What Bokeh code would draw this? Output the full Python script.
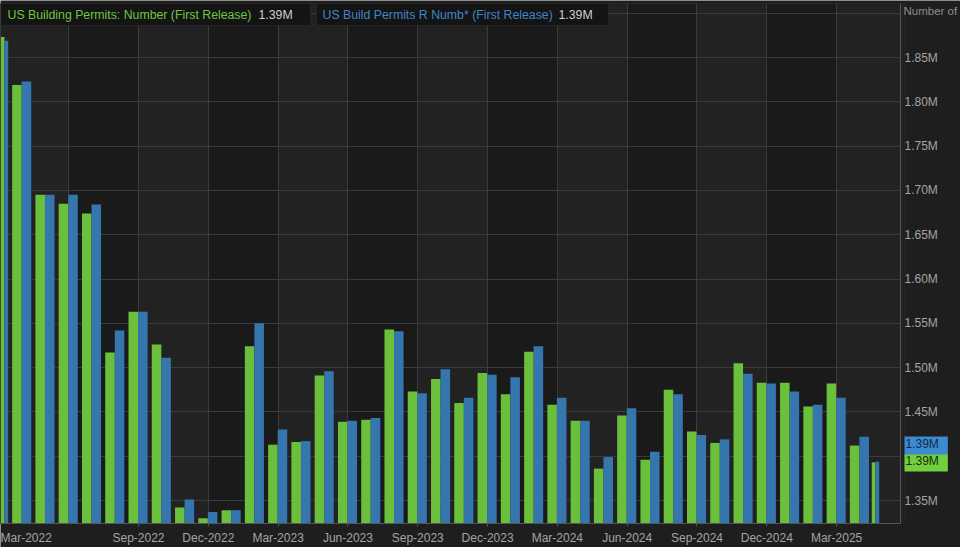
from bokeh.plotting import figure
from bokeh.models import Range1d, FixedTicker, BoxAnnotation, Label
from bokeh.embed import file_html
from bokeh.resources import INLINE

# ---------------- data ----------------
months = [
    "Mar-2022", "Apr-2022", "May-2022", "Jun-2022", "Jul-2022", "Aug-2022",
    "Sep-2022", "Oct-2022", "Nov-2022", "Dec-2022", "Jan-2023", "Feb-2023",
    "Mar-2023", "Apr-2023", "May-2023", "Jun-2023", "Jul-2023", "Aug-2023",
    "Sep-2023", "Oct-2023", "Nov-2023", "Dec-2023", "Jan-2024", "Feb-2024",
    "Mar-2024", "Apr-2024", "May-2024", "Jun-2024", "Jul-2024", "Aug-2024",
    "Sep-2024", "Oct-2024", "Nov-2024", "Dec-2024", "Jan-2025", "Feb-2025",
    "Mar-2025", "Apr-2025", "May-2025",
]
permits = [
    1.873, 1.819, 1.695, 1.685, 1.674, 1.517,
    1.563, 1.526, 1.342, 1.330, 1.339, 1.524,
    1.413, 1.416, 1.491, 1.439, 1.441, 1.543,
    1.473, 1.487, 1.460, 1.494, 1.470, 1.518,
    1.458, 1.440, 1.386, 1.446, 1.396, 1.475,
    1.428, 1.415, 1.505, 1.483, 1.483, 1.456,
    1.482, 1.412, 1.393,
]
permits_r = [
    1.869, 1.823, 1.695, 1.695, 1.684, 1.542,
    1.563, 1.511, 1.351, 1.337, 1.339, 1.550,
    1.430, 1.417, 1.496, 1.440, 1.443, 1.541,
    1.471, 1.498, 1.466, 1.492, 1.489, 1.524,
    1.466, 1.440, 1.399, 1.454, 1.405, 1.470,
    1.424, 1.419, 1.493, 1.482, 1.473, 1.458,
    1.466, 1.422, 1.394,
]
series_names = [
    "US Building Permits: Number (First Release)",
    "US Build Permits R Numb* (First Release)",
]
y_tick_values = [1.35, 1.40, 1.45, 1.50, 1.55, 1.60, 1.65, 1.70, 1.75, 1.80, 1.85]
y_grid_values = y_tick_values + [1.90]
x_tick_labels = ["Sep-2022", "Dec-2022", "Mar-2023", "Jun-2023", "Sep-2023",
                 "Dec-2023", "Mar-2024", "Jun-2024", "Sep-2024", "Dec-2024",
                 "Mar-2025"]
first_label = "Mar-2022"
unit_label = "Number of"

# ---------------- style / geometry ----------------
GREEN = "#6bc03b"
BLUE = "#3576af"
GREEN_TXT = "#6cc63f"
BLUE_TXT = "#3f86c8"
TXT = "#a4a4a4"
FONT = "Liberation Sans"
GRID = "#3b3b3b"

W, H = 960, 547
PX_MONTH = 23.27          # horizontal pixels per month
PX_UNIT = 886.0           # vertical pixels per 1.0M
X0 = 0.069                # month index at the left edge of the canvas
X1 = X0 + W / PX_MONTH
Y1 = 1.35 + 500 / PX_UNIT  # value at the top edge of the canvas
Y0 = Y1 - H / PX_UNIT


def dx(px):
    return X0 + px / PX_MONTH


def dy(py):
    return Y1 - py / PX_UNIT


PLOT_R = dx(900)      # right edge of the plotting area
PLOT_B = dy(523)      # baseline (x axis)
PLOT_T = dy(3)        # top edge of the plotting area

p = figure(width=W, height=H,
           x_range=Range1d(X0, X1), y_range=Range1d(Y0, Y1),
           output_backend="svg", toolbar_location=None,
           y_axis_location="right",
           min_border_left=0, min_border_top=0,
           min_border_right=0, min_border_bottom=0,
           background_fill_color="#1e1e1e", border_fill_color="#1e1e1e",
           outline_line_color=None)

n = len(months)

# plotting area + alternating quarter bands
p.add_layout(BoxAnnotation(left=dx(-3), right=PLOT_R, top=PLOT_T, bottom=PLOT_B,
                           fill_color="#1a1a1a", fill_alpha=1.0,
                           line_color="#4a4a4a", line_width=1, level="image"))
for q in range(0, n, 6):
    p.add_layout(BoxAnnotation(left=q, right=q + 3, top=PLOT_T, bottom=PLOT_B,
                               fill_color="#222222", fill_alpha=1.0,
                               line_color=None, level="image"))

# grids
p.xgrid.ticker = FixedTicker(ticks=list(range(0, n, 3)))
p.ygrid.ticker = FixedTicker(ticks=y_grid_values)
p.xgrid.cross_bounds = (PLOT_B, PLOT_T)
p.ygrid.cross_bounds = (dx(-3), PLOT_R)
p.xgrid.grid_line_color = GRID
p.ygrid.grid_line_color = GRID

# bars
BW = 0.41
gx, bx, ws = [], [], []
for i in range(n):
    if i == 0:
        c, w = i + 0.24, 0.16
    elif i == n - 1:
        c, w = i - 0.33, 0.16
    else:
        c, w = i - 0.02, BW
    gx.append(c - w / 2)
    bx.append(c + w / 2)
    ws.append(w)

p.vbar(x=gx, width=ws, top=permits, bottom=PLOT_B, fill_color=GREEN, line_color=None)
p.vbar(x=bx, width=ws, top=permits_r, bottom=PLOT_B, fill_color=BLUE, line_color=None)

# x axis
xt = [months.index(m) for m in x_tick_labels]
xa = p.xaxis[0]
xa.fixed_location = PLOT_B
xa.bounds = (dx(-3), PLOT_R)
xa.ticker = FixedTicker(ticks=xt)
xa.major_label_overrides = {t: months[t] for t in xt}
xa.axis_line_color = "#555555"
xa.major_tick_line_color = "#555555"
xa.major_tick_out = 3
xa.major_tick_in = 0
xa.minor_tick_line_color = None
xa.major_label_standoff = 4
xa.major_label_text_color = TXT
xa.major_label_text_font = FONT
xa.major_label_text_font_size = "12px"

# y axis (right)
ya = p.yaxis[0]
ya.fixed_location = PLOT_R
ya.bounds = (PLOT_B, PLOT_T)
ya.ticker = FixedTicker(ticks=y_tick_values)
ya.major_label_overrides = {t: f"{t:.2f}M" for t in y_tick_values}
ya.axis_line_color = "#555555"
ya.major_tick_line_color = None
ya.major_tick_out = 0
ya.major_tick_in = 0
ya.minor_tick_line_color = None
ya.major_label_standoff = 4
ya.major_label_text_color = TXT
ya.major_label_text_font = FONT
ya.major_label_text_font_size = "12px"

# first x label (its tick lies just left of the visible range)
p.add_layout(Label(x=dx(0), y=dy(537), text=first_label, text_align="left",
                   text_baseline="middle", text_color=TXT, text_font=FONT,
                   text_font_size="12px"))

# unit label at top of right axis
p.add_layout(Label(x=dx(903), y=dy(10), text=unit_label, text_align="left",
                   text_baseline="middle", text_color="#8e8e8e", text_font=FONT,
                   text_font_size="11.5px"))

# legend boxes
boxes = [(0.5, 310, 7, 258, series_names[0], GREEN_TXT, permits[-1]),
         (316, 608, 322, 558, series_names[1], BLUE_TXT, permits_r[-1])]
for l, r, tx, vx, name, col, last in boxes:
    p.add_layout(BoxAnnotation(left=dx(l), right=dx(r), top=dy(3), bottom=dy(25),
                               fill_color="#141414", fill_alpha=1.0,
                               line_color="#3a3a3a", line_width=1))
    p.add_layout(Label(x=dx(tx), y=dy(14), text=name, text_align="left",
                       text_baseline="middle", text_color=col, text_font=FONT,
                       text_font_size="12.3px"))
    p.add_layout(Label(x=dx(vx), y=dy(14), text=f"{last:.2f}M", text_align="left",
                       text_baseline="middle", text_color="#cfcfcf", text_font=FONT,
                       text_font_size="12.3px"))

# last-value tags on the right axis
box_h = 17 / PX_UNIT
g_y = permits[-1]
b_y = max(permits_r[-1], g_y + box_h)
for yv, val, bg, fg in [(g_y, permits[-1], "#72cf3f", "#17300b"),
                        (b_y, permits_r[-1], "#3c8ad0", "#0e2a48")]:
    p.add_layout(Label(x=dx(904), y=yv, text=f"{val:.2f}M",
                       text_align="left", text_baseline="middle",
                       text_color=fg, text_font=FONT, text_font_size="12px",
                       background_fill_color=bg, background_fill_alpha=1.0,
                       padding=(1, 9, 1, 3)))

open("out.html", "w").write(file_html(p, INLINE))
